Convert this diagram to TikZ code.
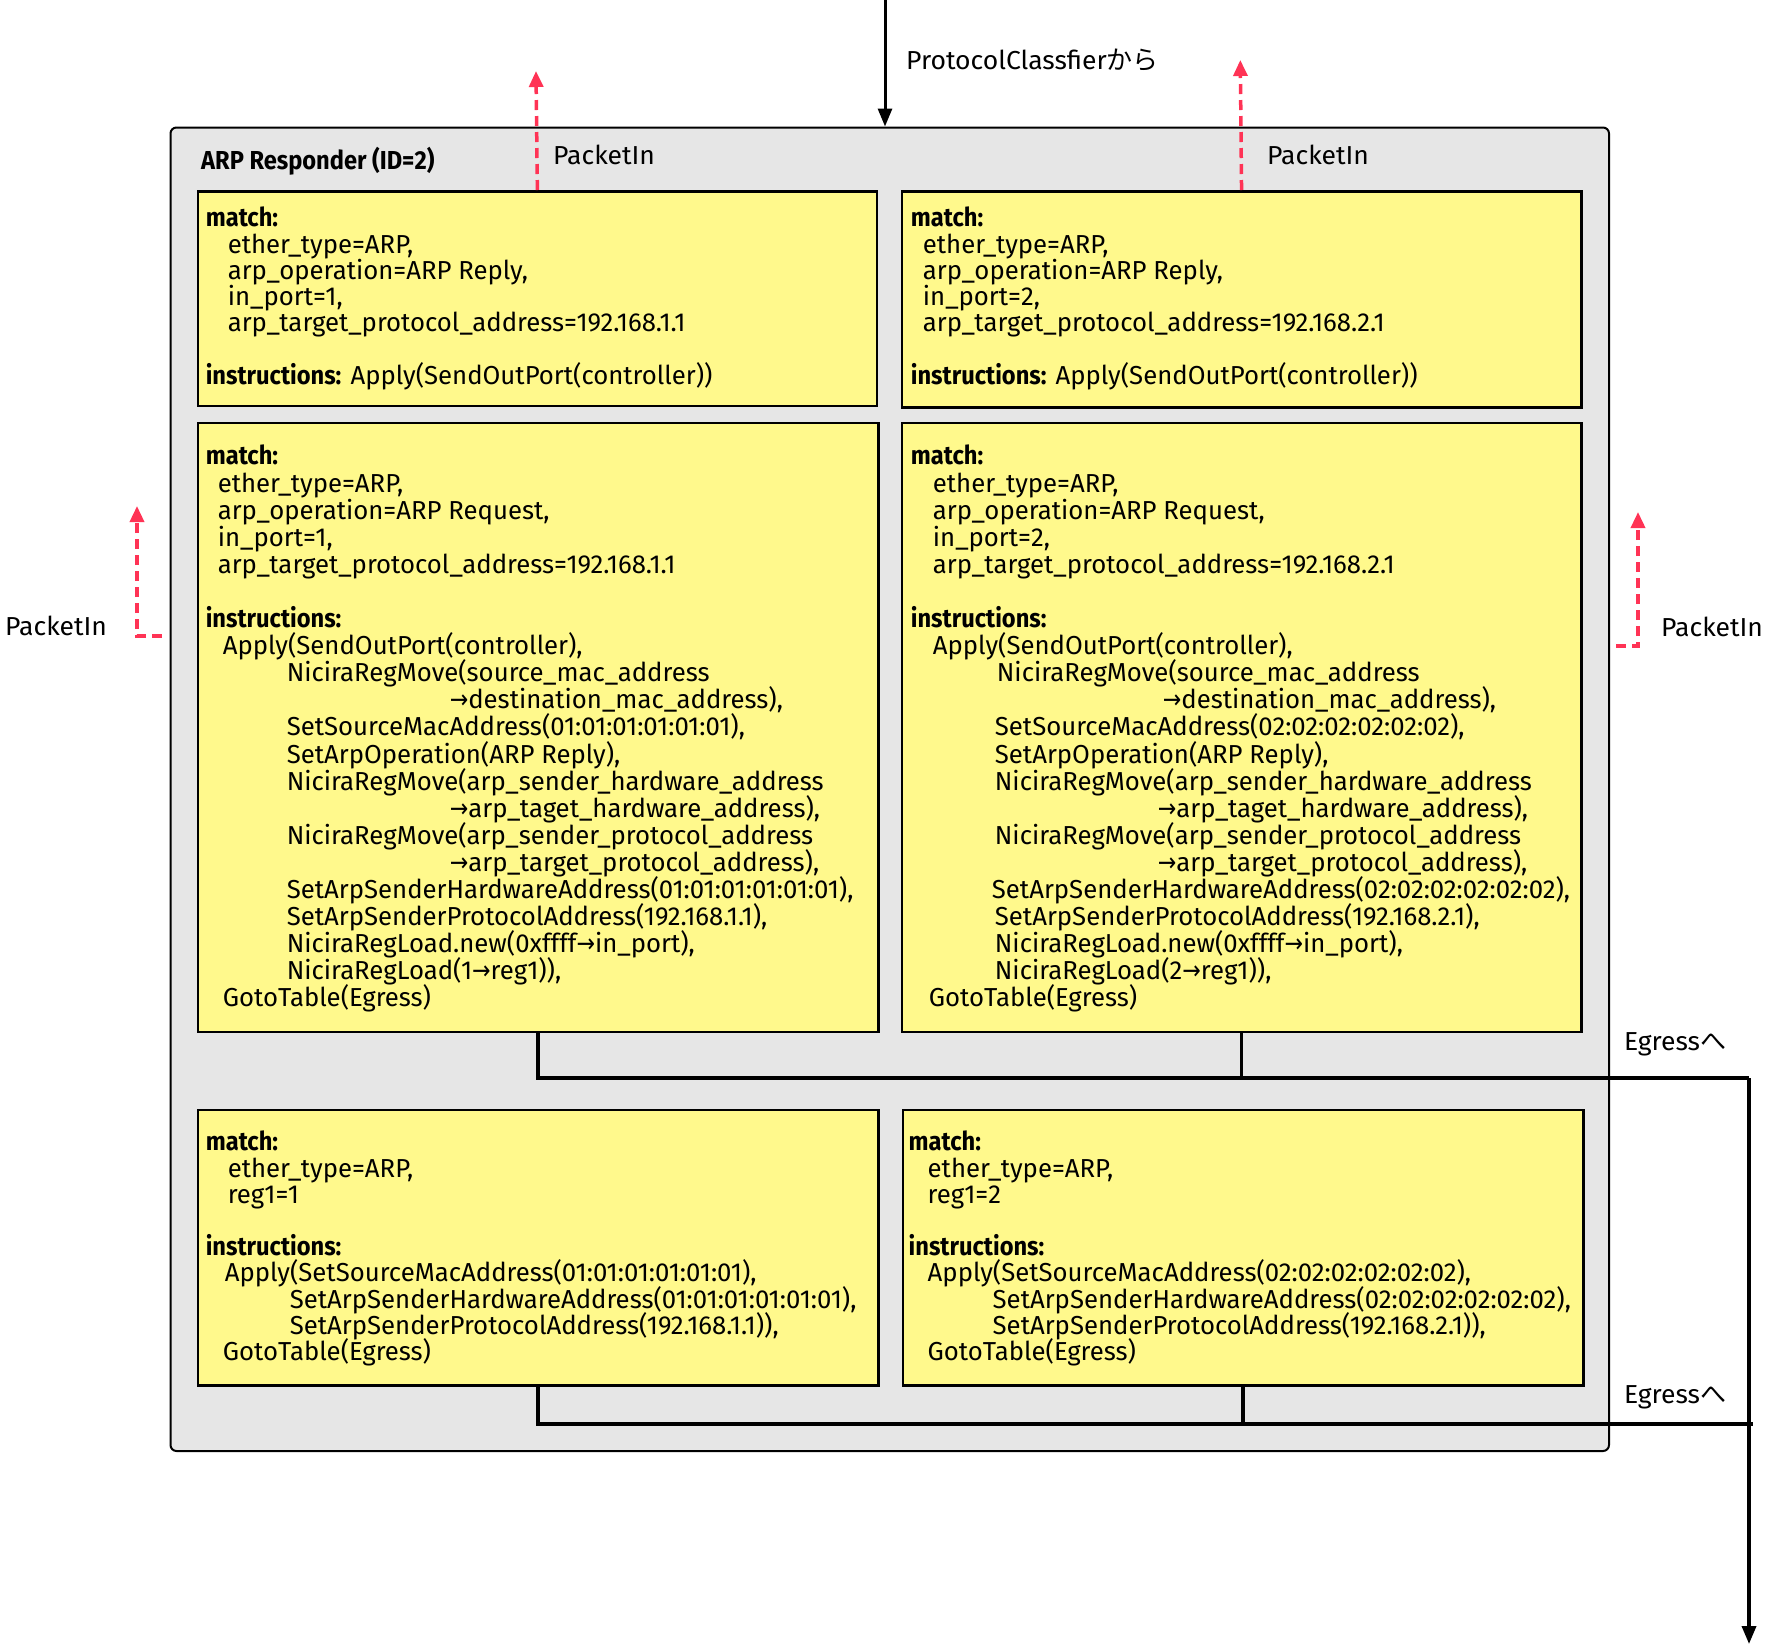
\documentclass[tikz,border=0pt]{standalone}
\usepackage{fontspec}
\setmainfont{Fira Sans}[FakeStretch=0.99, BoldFeatures={FakeStretch=0.91}]
\newfontfamily\lblfont{Fira Sans}[FakeStretch=1.02]
\newfontfamily\jpfont{Noto Sans CJK JP}
\newfontfamily\symfont{DejaVu Sans}
\usetikzlibrary{arrows.meta}
\newcommand\ra{{\symfont\scalebox{0.85}[1]{→}}}
\newcommand\ind[1]{\hspace*{#1pt}}
\newcommand\tightlines{\lineskiplimit=-40pt\relax}
\definecolor{boxyellow}{HTML}{FFF98C}
\definecolor{panelgray}{HTML}{E6E6E6}
\definecolor{pinred}{HTML}{FF3355}
\tikzset{
  panel/.style={draw=black, line width=2pt, fill=panelgray, rounded corners=6pt},
  flowbox/.style={draw=black, line width=2.5pt, fill=boxyellow, anchor=north west, inner sep=0pt},
  flowtext/.style={anchor=north west, inner sep=0pt, align=left, font=\fontsize{26}{26.2}\selectfont\tightlines},
  flowtextb/.style={flowtext, font=\fontsize{26}{27.1}\selectfont\tightlines},
  lbl/.style={inner sep=0pt, anchor=west, font=\lblfont\fontsize{26}{28}\selectfont},
  flowline/.style={draw=black, line width=3.5pt},
  inarrow/.style={draw=black, line width=3pt, -{Triangle[length=18pt,width=14pt]}},
  pin/.style={draw=pinred, line width=3.5pt, dash pattern=on 10pt off 6pt, -{Triangle[length=16pt,width=14pt]}},
}
\begin{document}
\begin{tikzpicture}[x=1pt,y=-1pt]
\useasboundingbox (0,0) rectangle (1768,1647);
% panel
\node[panel, anchor=north west, minimum width=1438.5pt, minimum height=1323.5pt, inner sep=0pt] (panel) at (169.5,126.5) {};
\node[inner sep=0pt, anchor=west, font=\bfseries\fontsize{26}{28}\selectfont] (title) at (201,161) {ARP Responder (ID=2)};
% boxes
\node[flowbox, minimum width=679pt, minimum height=214.5pt] (b1) at (196.6,190) {};
\node[flowbox, minimum width=679.4pt, minimum height=216pt] (b2) at (900.6,190) {};
\node[flowbox, minimum width=680.4pt, minimum height=609pt] (b3) at (196.6,421.5) {};
\node[flowbox, minimum width=679.4pt, minimum height=609pt] (b4) at (900.6,421.5) {};
\node[flowbox, minimum width=680.4pt, minimum height=275.5pt] (b5) at (196.6,1108.5) {};
\node[flowbox, minimum width=680.3pt, minimum height=275.5pt] (b6) at (901.7,1108.5) {};
% texts
\node[flowtext] (t1) at (205.6,207) {\textbf{match:}\\
\ind{22}ether\_type=ARP,\\
\ind{22}arp\_operation=ARP Reply,\\
\ind{22}in\_port=1,\\
\ind{22}arp\_target\_protocol\_address=192.168.1.1\\
\mbox{}\\
\textbf{instructions:} Apply(SendOutPort(controller))};
\node[flowtext] (t2) at (910.7,207) {\textbf{match:}\\
\ind{12}ether\_type=ARP,\\
\ind{12}arp\_operation=ARP Reply,\\
\ind{12}in\_port=2,\\
\ind{12}arp\_target\_protocol\_address=192.168.2.1\\
\mbox{}\\
\textbf{instructions:} Apply(SendOutPort(controller))};
\node[flowtextb] (t3) at (205.6,445) {\textbf{match:}\\
\ind{12}ether\_type=ARP,\\
\ind{12}arp\_operation=ARP Request,\\
\ind{12}in\_port=1,\\
\ind{12}arp\_target\_protocol\_address=192.168.1.1\\
\mbox{}\\
\textbf{instructions:}\\
\ind{17}Apply(SendOutPort(controller),\\
\ind{81}NiciraRegMove(source\_mac\_address\\
\ind{244}\ra destination\_mac\_address),\\
\ind{81}SetSourceMacAddress(01:01:01:01:01:01),\\
\ind{81}SetArpOperation(ARP Reply),\\
\ind{81}NiciraRegMove(arp\_sender\_hardware\_address\\
\ind{244}\ra arp\_taget\_hardware\_address),\\
\ind{81}NiciraRegMove(arp\_sender\_protocol\_address\\
\ind{244}\ra arp\_target\_protocol\_address),\\
\ind{81}SetArpSenderHardwareAddress(01:01:01:01:01:01),\\
\ind{81}SetArpSenderProtocolAddress(192.168.1.1),\\
\ind{81}NiciraRegLoad.new(0xffff\ra in\_port),\\
\ind{81}NiciraRegLoad(1\ra reg1)),\\
\ind{17}GotoTable(Egress)};
\node[flowtextb] (t4) at (910.7,445) {\textbf{match:}\\
\ind{22}ether\_type=ARP,\\
\ind{22}arp\_operation=ARP Request,\\
\ind{22}in\_port=2,\\
\ind{22}arp\_target\_protocol\_address=192.168.2.1\\
\mbox{}\\
\textbf{instructions:}\\
\ind{22}Apply(SendOutPort(controller),\\
\ind{86}NiciraRegMove(source\_mac\_address\\
\ind{252}\ra destination\_mac\_address),\\
\ind{84}SetSourceMacAddress(02:02:02:02:02:02),\\
\ind{84}SetArpOperation(ARP Reply),\\
\ind{84}NiciraRegMove(arp\_sender\_hardware\_address\\
\ind{247}\ra arp\_taget\_hardware\_address),\\
\ind{84}NiciraRegMove(arp\_sender\_protocol\_address\\
\ind{247}\ra arp\_target\_protocol\_address),\\
\ind{81}SetArpSenderHardwareAddress(02:02:02:02:02:02),\\
\ind{84}SetArpSenderProtocolAddress(192.168.2.1),\\
\ind{84}NiciraRegLoad.new(0xffff\ra in\_port),\\
\ind{84}NiciraRegLoad(2\ra reg1)),\\
\ind{18}GotoTable(Egress)};
\node[flowtext] (t5) at (205.6,1131) {\textbf{match:}\\
\ind{22}ether\_type=ARP,\\
\ind{22}reg1=1\\
\mbox{}\\
\textbf{instructions:}\\
\ind{19}Apply(SetSourceMacAddress(01:01:01:01:01:01),\\
\ind{84}SetArpSenderHardwareAddress(01:01:01:01:01:01),\\
\ind{84}SetArpSenderProtocolAddress(192.168.1.1)),\\
\ind{17}GotoTable(Egress)};
\node[flowtext] (t6) at (908.5,1131) {\textbf{match:}\\
\ind{19}ether\_type=ARP,\\
\ind{19}reg1=2\\
\mbox{}\\
\textbf{instructions:}\\
\ind{19}Apply(SetSourceMacAddress(02:02:02:02:02:02),\\
\ind{84}SetArpSenderHardwareAddress(02:02:02:02:02:02),\\
\ind{84}SetArpSenderProtocolAddress(192.168.2.1)),\\
\ind{19}GotoTable(Egress)};
% incoming arrow
\coordinate (src) at (885,0);
\draw[inarrow] (src) -- (src |- panel.north);
\node[lbl] (srclbl) at (906,60) {ProtocolClassfier{\jpfont から}};
% PacketIn arrows
\coordinate (p1) at (536,71);
\coordinate (p2) at (1240.3,60);
\draw[pin] (b1.north) -- (p1);
\draw[pin] (b2.north) -- (p2);
\node[lbl] (pl1) at (553,155) {PacketIn};
\node[lbl] (pl2) at (1267,155) {PacketIn};
\coordinate (lp0) at (162,636);
\coordinate (lp1) at (137,506);
\draw[pin] (lp0) -| (lp1);
\node[lbl] (pl3) at (5,626) {PacketIn};
\coordinate (rp0) at (1616,646);
\coordinate (rp1) at (1638,512);
\draw[pin] (rp0) -| (rp1);
\node[lbl] (pl4) at (1661,627) {PacketIn};
% egress
\coordinate (eg1) at (1749,1078);
\coordinate (eg2) at (1753,1424);
\coordinate (out) at (1749,1644);
\draw[flowline] (b3.south) -- (b3.south |- eg1) -- (eg1);
\draw[flowline] (b4.south) -- (b4.south |- eg1);
\draw[flowline, -{Triangle[length=18pt,width=14pt]}] (eg1) -- (out);
\draw[flowline] (b5.south) -- (b5.south |- eg2) -- (eg2);
\draw[flowline] (b6.south) -- (b6.south |- eg2);
\node[lbl] (el1) at (1624,1044) {Egress{\jpfont へ}};
\node[lbl] (el2) at (1624,1397) {Egress{\jpfont へ}};
\end{tikzpicture}
\end{document}
